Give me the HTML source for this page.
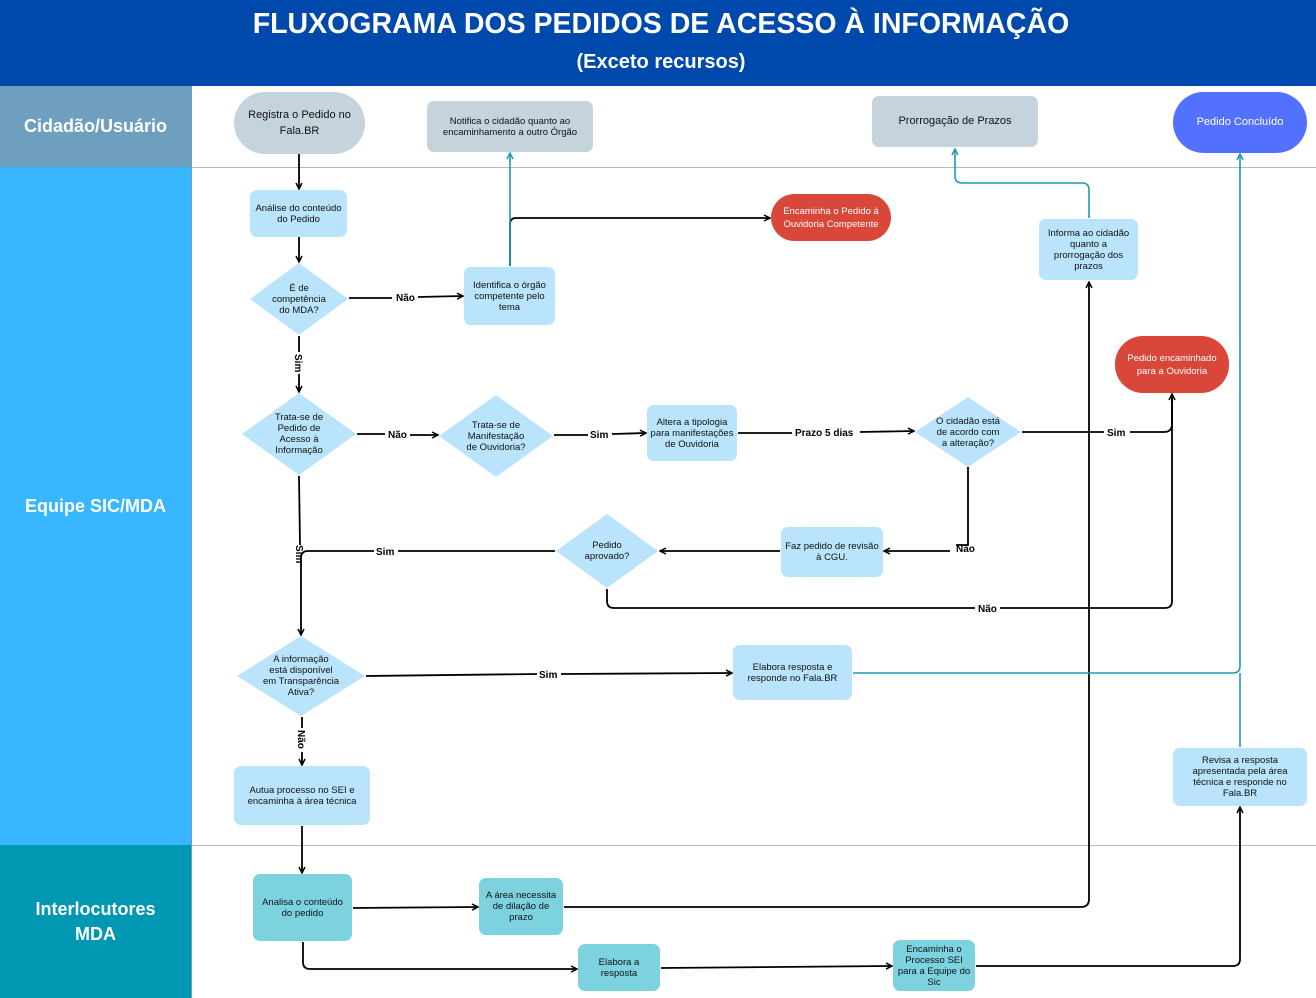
<!DOCTYPE html>
<html><head><meta charset="utf-8"><style>
*{margin:0;padding:0;box-sizing:border-box}
body{width:1316px;height:998px;position:relative;background:#fff;font-family:"Liberation Sans",sans-serif;overflow:hidden}
.a{position:absolute}
.n{position:absolute;display:flex;align-items:center;justify-content:center;text-align:center;font-size:9.5px;line-height:11px;color:#111;border-radius:7px;background:#b9e4fc}
.g{background:#c5d3dd}
.t{background:#7dd2e0}
.r{background:#d8473a;color:#fff;border-radius:26px}
.lane{position:absolute;left:0;width:192px;color:#fff;font-weight:bold;font-size:18px;display:flex;align-items:center;justify-content:center;text-align:center;line-height:25px;border-right:1px solid #6aa0c8}
.d{position:absolute;display:flex;align-items:center;justify-content:center;text-align:center;font-size:9.5px;line-height:11px;color:#111}
.lb{font-size:10px;font-weight:bold;font-family:"Liberation Sans",sans-serif}
</style></head><body>
<div class="a" style="left:0;top:0;width:1316px;height:86px;background:#0049ac"></div>
<div class="a" style="left:0;top:8px;width:1322px;text-align:center;color:#fff;font-weight:bold;font-size:28.5px">FLUXOGRAMA DOS PEDIDOS DE ACESSO À INFORMAÇÃO</div>
<div class="a" style="left:0;top:51px;width:1322px;text-align:center;color:#fff;font-weight:bold;font-size:20px">(Exceto recursos)</div>
<div class="lane" style="top:86px;height:81px;background:#6f9fbe">Cidadão/Usuário</div>
<div class="lane" style="top:167px;height:678px;background:#38b6ff">Equipe SIC/MDA</div>
<div class="lane" style="top:845px;height:153px;background:#0097b2">Interlocutores<br>MDA</div>
<div class="a" style="left:192px;top:167px;width:1124px;height:1px;background:#bbb"></div>
<div class="a" style="left:192px;top:845px;width:1124px;height:1px;background:#bbb"></div>

<svg class="a" style="left:0;top:0" width="1316" height="998">
<defs>
<marker id="k" markerWidth="8" markerHeight="8" refX="7" refY="4" orient="auto" markerUnits="userSpaceOnUse"><path d="M1,1 L7,4 L1,7" fill="none" stroke="#000" stroke-width="1.5"/></marker>
<marker id="c" markerWidth="8" markerHeight="8" refX="7" refY="4" orient="auto" markerUnits="userSpaceOnUse"><path d="M1,1 L7,4 L1,7" fill="none" stroke="#1a9bb0" stroke-width="1.5"/></marker>
</defs>
<g fill="#b9e4fc">
<polygon points="299,263 348,299 299,335 250,299"/>
<polygon points="299,393 356,434 299,475 242,434"/>
<polygon points="496,395 553,436 496,477 439,436"/>
<polygon points="968,397 1021,432 968,467 915,432"/>
<polygon points="607,514 658,551 607,588 556,551"/>
<polygon points="301,636 365,676 301,716 237,676"/>
</g>
<g fill="none" stroke="#000" stroke-width="1.8">
<path d="M299,154 V189" marker-end="url(#k)"/>
<path d="M299,237 V262" marker-end="url(#k)"/>
<path d="M349,298 H392 M418,297 L463,296" marker-end="url(#k)"/>
<path d="M299,336 V352 M299,374 V392" marker-end="url(#k)"/>
<path d="M510,266 V224 Q510,218 516,218 H770" marker-end="url(#k)"/>
<path d="M357,434 H385 M410,435 H438" marker-end="url(#k)"/>
<path d="M554,435 H588 M612,434 L646,433" marker-end="url(#k)"/>
<path d="M738,433 H792 M860,432 L914,431" marker-end="url(#k)"/>
<path d="M1022,432 H1104 M1130,432 H1164 Q1172,432 1172,424 V394" marker-end="url(#k)"/>
<path d="M968,467 V545 H956 M950,551 H884" marker-end="url(#k)"/>
<path d="M780,551 H660" marker-end="url(#k)"/>
<path d="M555,551 H398 M374,551 H308 Q301,551 301,558 V635" marker-end="url(#k)"/>
<path d="M299,476 L300,545"/>
<path d="M607,589 V601 Q607,608 614,608 H975 M1000,608 H1165 Q1172,608 1172,601 V396"/>
<path d="M366,676 L537,674 M561,674 L732,673" marker-end="url(#k)"/>
<path d="M302,717 V728 M302,752 V765" marker-end="url(#k)"/>
<path d="M302,826 V873" marker-end="url(#k)"/>
<path d="M353,908 L478,907" marker-end="url(#k)"/>
<path d="M564,907 H1081 Q1089,907 1089,899 V282" marker-end="url(#k)"/>
<path d="M303,942 V962 Q303,969 310,969 H577" marker-end="url(#k)"/>
<path d="M661,968 L892,966" marker-end="url(#k)"/>
<path d="M976,966 H1233 Q1240,966 1240,959 V807" marker-end="url(#k)"/>
</g>
<g fill="none" stroke="#1a9bb0" stroke-width="1.6">
<path d="M510,266 V153" marker-end="url(#c)"/>
<path d="M1089,218 V190 Q1089,183 1082,183 H962 Q955,183 955,176 V149" marker-end="url(#c)"/>
<path d="M853,673 H1233 Q1240,673 1240,666 V154" marker-end="url(#c)"/>
<path d="M1240,747 V673"/>
</g>
<g class="lb" fill="#000">
<text x="396" y="301">Não</text>
<text x="388" y="438">Não</text>
<text x="590" y="438">Sim</text>
<text x="795" y="436">Prazo 5 dias</text>
<text x="1107" y="436">Sim</text>
<text x="956" y="552">Não</text>
<text x="376" y="555">Sim</text>
<text x="978" y="612">Não</text>
<text x="539" y="678">Sim</text>
<text transform="translate(295,354) rotate(90)">Sim</text>
<text transform="translate(296,545) rotate(90)">Sim</text>
<text transform="translate(298,730) rotate(90)">Não</text>
</g>
</svg>

<div class="n g" style="left:234px;top:92px;width:131px;height:62px;border-radius:31px;font-size:11px;line-height:16px">Registra o Pedido no<br>Fala.BR</div>
<div class="n g" style="left:427px;top:101px;width:166px;height:51px">Notifica o cidadão quanto ao<br>encaminhamento a outro Órgão</div>
<div class="n g" style="left:872px;top:96px;width:166px;height:51px;font-size:11px">Prorrogação de Prazos</div>
<div class="n" style="left:1173px;top:92px;width:134px;height:61px;border-radius:31px;background:#5271ff;color:#fff;font-size:11px">Pedido Concluído</div>
<div class="n" style="left:250px;top:190px;width:97px;height:47px">Análise do conteúdo<br>do Pedido</div>
<div class="n" style="left:464px;top:267px;width:91px;height:58px">Identifica o órgão<br>competente pelo<br>tema</div>
<div class="n r" style="left:771px;top:194px;width:120px;height:47px;line-height:13px">Encaminha o Pedido à<br>Ouvidoria Competente</div>
<div class="n" style="left:1039px;top:219px;width:99px;height:61px">Informa ao cidadão<br>quanto a<br>prorrogação dos<br>prazos</div>
<div class="n r" style="left:1115px;top:336px;width:114px;height:57px;line-height:13px;border-radius:28px">Pedido encaminhado<br>para a Ouvidoria</div>
<div class="n" style="left:647px;top:405px;width:90px;height:56px">Altera a tipologia<br>para manifestações<br>de Ouvidoria</div>
<div class="n" style="left:781px;top:527px;width:102px;height:50px">Faz pedido de revisão<br>à CGU.</div>
<div class="n" style="left:733px;top:645px;width:119px;height:55px">Elabora resposta e<br>responde no Fala.BR</div>
<div class="n" style="left:234px;top:766px;width:136px;height:59px">Autua processo no SEI e<br>encaminha à área técnica</div>
<div class="n" style="left:1173px;top:748px;width:134px;height:58px">Revisa a resposta<br>apresentada pela área<br>técnica e responde no<br>Fala.BR</div>
<div class="n t" style="left:253px;top:874px;width:99px;height:67px">Analisa o conteúdo<br>do pedido</div>
<div class="n t" style="left:479px;top:878px;width:84px;height:57px">A área necessita<br>de dilação de<br>prazo</div>
<div class="n t" style="left:578px;top:944px;width:82px;height:47px">Elabora a<br>resposta</div>
<div class="n t" style="left:893px;top:940px;width:82px;height:51px">Encaminha o<br>Processo SEI<br>para a Equipe do<br>Sic</div>

<div class="d" style="left:250px;top:263px;width:98px;height:72px">É de<br>competência<br>do  MDA?</div>
<div class="d" style="left:242px;top:393px;width:114px;height:82px">Trata-se de<br>Pedido de<br>Acesso à<br>Informação</div>
<div class="d" style="left:439px;top:395px;width:114px;height:82px">Trata-se de<br>Manifestação<br>de Ouvidoria?</div>
<div class="d" style="left:915px;top:397px;width:106px;height:70px">O cidadão está<br>de acordo com<br>a alteração?</div>
<div class="d" style="left:556px;top:514px;width:102px;height:74px">Pedido<br>aprovado?</div>
<div class="d" style="left:237px;top:636px;width:128px;height:80px">A informação<br>está disponível<br>em Transparência<br>Ativa?</div>
</body></html>
